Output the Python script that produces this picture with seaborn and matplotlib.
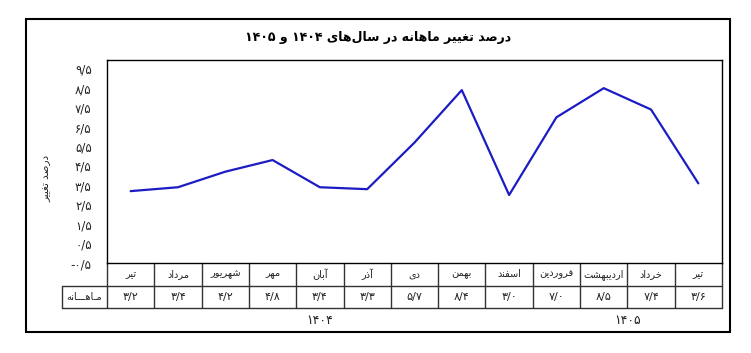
import re
import numpy as np
import pandas as pd
import matplotlib
matplotlib.use("Agg")
import matplotlib.pyplot as plt
from matplotlib.patches import Rectangle
import seaborn as sns

# ---------------- data ----------------
months = ["تیر", "مرداد", "شهریور", "مهر", "آبان", "آذر", "دی", "بهمن",
          "اسفند", "فروردین", "اردیبهشت", "خرداد", "تیر"]
values = [3.2, 3.4, 4.2, 4.8, 3.4, 3.3, 5.7, 8.4, 3.0, 7.0, 8.5, 7.4, 3.6]
years = ["۱۴۰۴", "۱۴۰۵"]
year_counts = [9, 4]
yticks = [-0.5, 0.5, 1.5, 2.5, 3.5, 4.5, 5.5, 6.5, 7.5, 8.5, 9.5]
title = "درصد تغییر ماهانه در سال‌های ۱۴۰۴ و ۱۴۰۵"
ylabel = "درصد تغییر"
row_label = "مـاهـــانه"

# ------------- minimal Persian shaping -------------
FORMS = {
    'ا': ('\uFE8D', '\uFE8E'), 'آ': ('\uFE81', '\uFE82'),
    'د': ('\uFEA9', '\uFEAA'), 'ذ': ('\uFEAB', '\uFEAC'),
    'ر': ('\uFEAD', '\uFEAE'), 'ز': ('\uFEAF', '\uFEB0'),
    'و': ('\uFEED', '\uFEEE'),
    'ب': ('\uFE8F', '\uFE90', '\uFE91', '\uFE92'),
    'ت': ('\uFE95', '\uFE96', '\uFE97', '\uFE98'),
    'خ': ('\uFEA5', '\uFEA6', '\uFEA7', '\uFEA8'),
    'س': ('\uFEB1', '\uFEB2', '\uFEB3', '\uFEB4'),
    'ش': ('\uFEB5', '\uFEB6', '\uFEB7', '\uFEB8'),
    'ص': ('\uFEB9', '\uFEBA', '\uFEBB', '\uFEBC'),
    'غ': ('\uFECD', '\uFECE', '\uFECF', '\uFED0'),
    'ف': ('\uFED1', '\uFED2', '\uFED3', '\uFED4'),
    'ل': ('\uFEDD', '\uFEDE', '\uFEDF', '\uFEE0'),
    'م': ('\uFEE1', '\uFEE2', '\uFEE3', '\uFEE4'),
    'ن': ('\uFEE5', '\uFEE6', '\uFEE7', '\uFEE8'),
    'ه': ('\uFEE9', '\uFEEA', '\uFEEB', '\uFEEC'),
    'ی': ('\uFBFC', '\uFBFD', '\uFBFE', '\uFBFF'),
    'ـ': ('ـ', 'ـ', 'ـ', 'ـ'),
}


def shape(s):
    out = []
    for i, c in enumerate(s):
        if c not in FORMS:
            out.append(c)
            continue
        f = FORMS[c]
        p = i > 0 and s[i - 1] in FORMS and len(FORMS[s[i - 1]]) == 4
        n = len(f) == 4 and i + 1 < len(s) and s[i + 1] in FORMS
        if p and n:
            out.append(f[3])
        elif p:
            out.append(f[1])
        elif n:
            out.append(f[2])
        else:
            out.append(f[0])
    txt = "".join(out).replace("\u200c", "")
    txt = txt[::-1]
    return re.sub(r"[0-9۰-۹/\.]+", lambda m: m.group(0)[::-1], txt)


def fa_num(v):
    s = f"{v:.1f}".replace(".", "/")
    return s.translate(str.maketrans("0123456789", "۰۱۲۳۴۵۶۷۸۹"))


# ---------------- figure ----------------
sns.set_theme(style="white")
plt.rcParams['font.family'] = ['DejaVu Sans']

W, H = 751, 353
fig = plt.figure(figsize=(W / 100, H / 100), dpi=100)
fig.patch.set_facecolor("white")

L, R, T, B = 107, 722, 60, 263
ax = fig.add_axes([L / W, 1 - B / H, (R - L) / W, (B - T) / H])

df = pd.DataFrame({"x": np.arange(len(values)), "v": values})
sns.lineplot(data=df, x="x", y="v", ax=ax, color="#1c1cc4", lw=1.6)

ax.set_xlim(-0.5, len(values) - 0.5)
ax.set_ylim(-0.5, 9.95)
ax.set_yticks(yticks)
ax.set_yticklabels([fa_num(t) for t in yticks], fontsize=8.5, color="#222")
ax.set_xticks([])
ax.tick_params(axis="y", length=0, pad=11)
ax.set_xlabel("")
ax.set_ylabel("")
for sp in ax.spines.values():
    sp.set_color("black")
    sp.set_linewidth(1.0)

# ---------------- table under the plot ----------------
trans = ax.get_xaxis_transform()
rh = 22.5 / (B - T)
n = len(values)
hx = -0.5 - 45 / ((R - L) / n)
lc = "#333333"
kw = dict(transform=trans, clip_on=False, color=lc, lw=1.0)
ax.plot([-0.5, n - 0.5], [-rh, -rh], **kw)
ax.plot([hx, n - 0.5], [-2 * rh, -2 * rh], **kw)
ax.plot([hx, -0.5], [-rh, -rh], **kw)
ax.plot([hx, hx], [-rh, -2 * rh], **kw)
for k in range(n + 1):
    ax.plot([k - 0.5, k - 0.5], [0, -2 * rh], **kw)

for i, (m, v) in enumerate(zip(months, values)):
    ax.text(i, -rh / 2, shape(m), transform=trans, ha="center", va="center",
            fontsize=7, color="#222", clip_on=False)
    ax.text(i, -1.5 * rh, fa_num(v), transform=trans, ha="center",
            va="center", fontsize=8, color="#222", clip_on=False)
ax.text((hx - 0.5) / 2, -1.5 * rh, shape(row_label), transform=trans,
        ha="center", va="center", fontsize=7, color="#222", clip_on=False)

start = 0
for yname, cnt in zip(years, year_counts):
    center = start + (cnt - 1) / 2
    ax.text(center, -(320 - B) / (B - T), yname, transform=trans,
            ha="center", va="center", fontsize=9, color="#222", clip_on=False)
    start += cnt

# ---------------- titles & frame ----------------
fig.text(378 / W, 1 - 37 / H, shape(title), ha="center", va="center",
         fontsize=9, fontweight="bold", color="black")
fig.text(46 / W, 1 - 178 / H, shape(ylabel), ha="center", va="center",
         rotation=90, fontsize=7.5, color="#222")
fig.add_artist(Rectangle((26 / W, 1 - 332 / H), (730 - 26) / W, (332 - 19) / H,
                         transform=fig.transFigure, fill=False, lw=1.5,
                         ec="black"))

fig.savefig("out.png", dpi=100, facecolor="white")
